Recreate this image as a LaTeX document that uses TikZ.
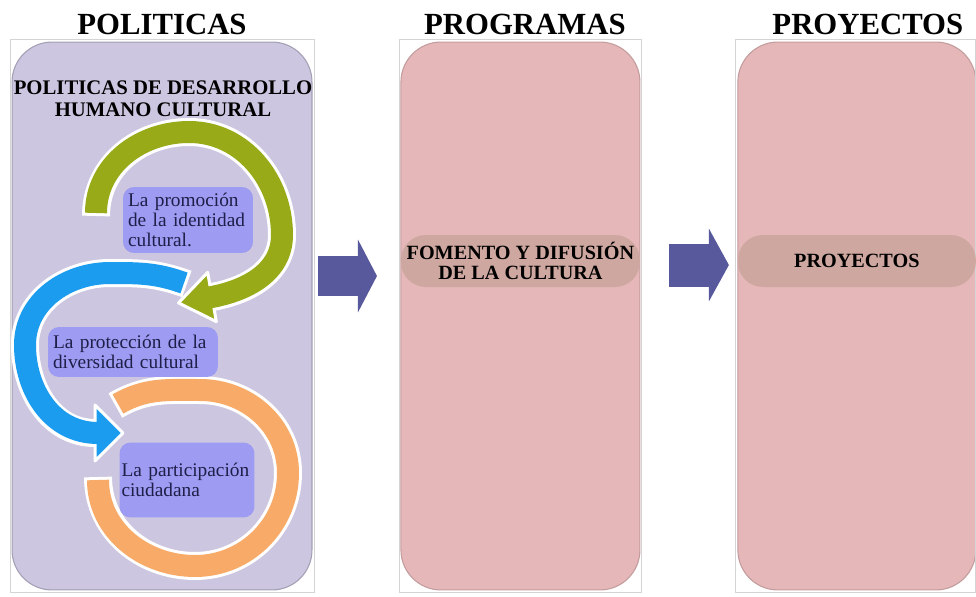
\documentclass[tikz,border=0pt]{standalone}
\usepackage{fontspec}
\setmainfont{Liberation Serif}
\usetikzlibrary{positioning,arrows.meta}
\definecolor{PanelLila}{RGB}{204,198,224}
\definecolor{PanelRosa}{RGB}{230,183,185}
\definecolor{BandaTan}{RGB}{206,168,160}
\definecolor{FlechaAzul}{RGB}{88,88,156}
\definecolor{IdeaAzul}{RGB}{158,156,242}
\definecolor{IdeaTexto}{RGB}{30,30,72}
\definecolor{ArcoVerde}{RGB}{152,170,24}
\definecolor{ArcoAzul}{RGB}{28,156,238}
\definecolor{ArcoNaranja}{RGB}{248,170,104}
\definecolor{MarcoGris}{RGB}{212,212,212}

\begin{document}
\begin{tikzpicture}[x=0.02cm, y=0.02cm, every node/.style={font=\rmfamily}]
  \tikzstyle{panel}=[rectangle, rounded corners=0.8cm, minimum height=10.96cm, inner sep=0pt, outer sep=0pt, line width=0.6pt]
  \tikzstyle{marco}=[draw=MarcoGris, line width=0.5pt]
  \tikzstyle{titulo}=[inner sep=0pt, font=\bfseries\fontsize{17.5}{20}\selectfont]
  \tikzstyle{banda}=[rectangle, rounded corners=0.5cm, minimum height=1.04cm, inner sep=0pt, fill=BandaTan, align=center, font=\bfseries\fontsize{11.5}{11}\selectfont]
  \tikzstyle{idea}=[rectangle, rounded corners=0.22cm, fill=IdeaAzul, text=IdeaTexto, align=left, inner ysep=2pt, font=\fontsize{11}{11.6}\selectfont]
  \tikzstyle{halo}=[draw=white, line width=0.56cm]
  \tikzstyle{cinta}=[line width=0.44cm]
  \tikzstyle{punta}=[draw=white, line width=0.06cm, line join=round]
  \tikzstyle{flecha}=[draw=FlechaAzul, line width=0.8cm, -{Triangle[length=0.38cm, width=1.44cm]}]
  \useasboundingbox (0,0) rectangle (976,596);
  % paneles y titulos
  \node[panel, fill=PanelLila, draw=PanelLila!80!black, minimum width=6cm] (pol) at (162,280) {};
  \node[panel, fill=PanelRosa, draw=PanelRosa!85!black, minimum width=4.78cm, right=1.78cm of pol] (prog) {};
  \node[panel, fill=PanelRosa, draw=PanelRosa!85!black, minimum width=4.76cm, right=1.96cm of prog] (proy) {};
  \draw[marco] ([shift={(-0.04cm,-0.04cm)}]pol.south west) rectangle ([shift={(0.04cm,0.06cm)}]pol.north east);
  \draw[marco] ([shift={(-0.04cm,-0.04cm)}]prog.south west) rectangle ([shift={(0.04cm,0.06cm)}]prog.north east);
  \draw[marco] ([shift={(-0.04cm,-0.04cm)}]proy.south west) rectangle ([shift={(0cm,0.06cm)}]proy.north east);
  \node[titulo, above=0.14cm of pol] (tpol) {POLITICAS};
  \node[titulo, above=0.14cm of prog, xshift=0.09cm] (tprog) {PROGRAMAS};
  \node[titulo, above=0.14cm of proy, xshift=0.22cm] (tproy) {PROYECTOS};
  \node[banda, minimum width=4.78cm] (fomento) at ([yshift=1.1cm]prog.center) {FOMENTO Y DIFUSIÓN\\DE LA CULTURA};
  \node[banda, minimum width=4.76cm] (proyband) at ([yshift=1.1cm]proy.center) {PROYECTOS};
  \node[font=\bfseries\fontsize{11.8}{12.5}\selectfont, align=center, inner sep=0pt] (polhead) at (163,497) {POLITICAS DE DESARROLLO\\HUMANO CULTURAL};
  % ciclo naranja
  \draw[halo, shorten <=-0.06cm, shorten >=-0.06cm] (118,192) to[out=30,in=180] (200,206) to[out=0,in=90] (288,123) to[out=-90,in=0] (195,30) to[out=180,in=-90] (98,116);
  \draw[cinta, ArcoNaranja] (118,192) to[out=30,in=180] (200,206) to[out=0,in=90] (288,123) to[out=-90,in=0] (195,30) to[out=180,in=-90] (98,116);
  % ciclo azul
  \draw[halo, shorten <=-0.06cm] (184,313) to[out=160,in=0] (110,323) to[out=180,in=90] (25,251) to[out=-90,in=180] (95,163);
  \begin{scope}[shift={(95,163)}]
    \filldraw[punta, fill=ArcoAzul] (0,28) -- (28,0) -- (0,-28) -- cycle;
  \end{scope}
  \draw[cinta, ArcoAzul, shorten >=-0.06cm] (184,313) to[out=160,in=0] (110,323) to[out=180,in=90] (25,251) to[out=-90,in=180] (95,163);
  % ciclo verde
  \draw[halo, shorten <=-0.06cm] (96,383) to[out=90,in=180] (189,464) to[out=0,in=90] (282,361) to[out=-90,in=10] (212,299);
  \begin{scope}[shift={(212,299)}, rotate=190]
    \filldraw[punta, fill=ArcoVerde] (0,25) -- (34,0) -- (0,-25) -- cycle;
  \end{scope}
  \draw[cinta, ArcoVerde, shorten >=-0.06cm] (96,383) to[out=90,in=180] (189,464) to[out=0,in=90] (282,361) to[out=-90,in=10] (212,299);
  % cajas
  \node[idea, text width=2.4cm, inner xsep=0.1cm, minimum height=1.32cm] (promo) at (188,376) {La promoción\\de la identidad\\cultural.};
  \node[idea, text width=3.2cm, inner xsep=0.1cm, minimum height=1cm] (protec) at (133,244) {La protección de la\\diversidad cultural};
  \node[idea, text width=2.62cm, inner xsep=0.04cm, minimum height=1.5cm] (partic) at (187,116) {La participación\\ciudadana};
  % flechas
  \draw[flecha] ([shift={(0.12cm,0.8cm)}]pol.east) -- ([shift={(-0.48cm,0.8cm)}]prog.west);
  \draw[flecha, line width=0.86cm, -{Triangle[length=0.4cm, width=1.44cm]}] ([shift={(0.58cm,1.02cm)}]prog.east) -- ([shift={(-0.18cm,1.02cm)}]proy.west);
\end{tikzpicture}
\end{document}
